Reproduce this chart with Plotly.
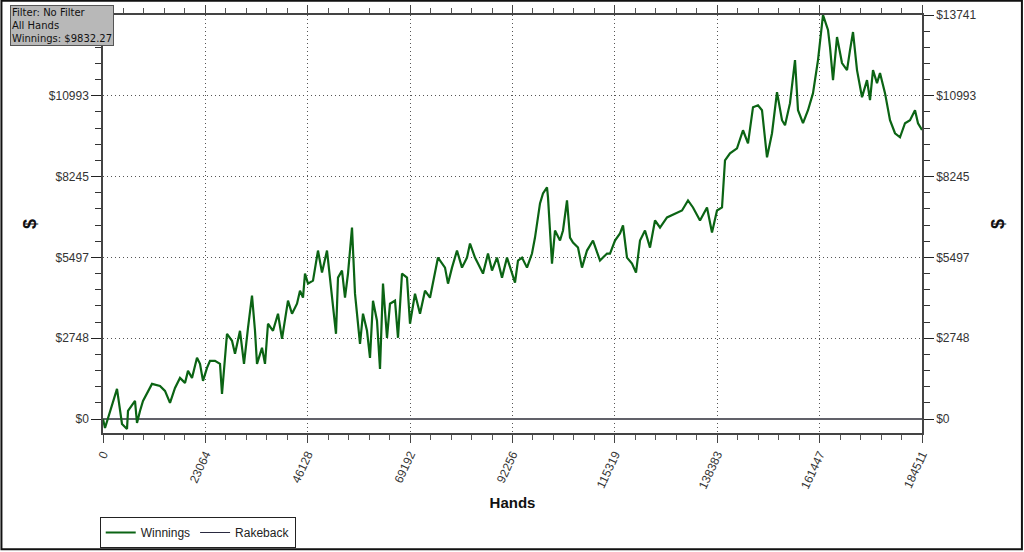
import plotly.graph_objects as go

# Winnings curve (hands, dollars)
hands = [0, 451, 3154, 4281, 5407, 5632, 7209, 7660, 8336, 9012, 11039, 12842, 13968, 15094,
         16221, 17347, 18474, 19150, 20051, 21177, 21853, 22529, 23430, 24106, 25232, 26359,
         26810, 27485, 27936, 29062, 29738, 30865, 31766, 32667, 33568, 34244, 34695, 35821,
         36497, 37173, 38299, 39426, 40327, 41679, 42580, 43706, 44382, 45058, 45509, 46184,
         47311, 48437, 49339, 50465, 51141, 51817, 52493, 52943, 53844, 54520, 55196, 56097,
         56773, 57900, 58576, 59477, 60152, 60828, 61729, 62405, 63081, 63982, 64658, 65785,
         66461, 67362, 68488, 69164, 70290, 71417, 72543, 73670, 74346, 75472, 77049, 77725,
         78626, 79753, 80879, 82006, 82681, 83808, 84484, 85610, 86737, 87638, 88764, 89891,
         91017, 92144, 92819, 93495, 94396, 95523, 96649, 97325, 98452, 99127, 100029, 100254,
         101155, 101831, 102958, 103633, 104534, 105210, 105886, 107013, 107914, 109040,
         110392, 111969, 113546, 114222, 115348, 116475, 117151, 118052, 119178, 120080,
         120981, 122107, 123234, 124360, 125487, 127064, 128866, 130443, 131795, 132921,
         134498, 136075, 137202, 138328, 139455, 140130, 141257, 142834, 144186, 145312,
         146439, 147565, 148466, 149593, 150719, 151845, 152972, 153648, 154774, 155901,
         156577, 157703, 158829, 159956, 161082, 161983, 162209, 163335, 163786, 164462,
         165363, 166489, 167616, 168292, 168968, 169869, 170995, 172122, 172798, 173473,
         174374, 175050, 176177, 177303, 178430, 179556, 180683, 181809, 182936, 183611, 184511]
winnings = [0, -307, 1023, -171, -341, 273, 614, -136, 273, 614, 1194, 1125, 955, 546,
            1057, 1398, 1228, 1637, 1398, 2080, 1876, 1296, 1739, 1978, 1978, 1876,
            853, 1978, 2899, 2660, 2217, 3001, 1876, 3103, 4194, 3001, 1876, 2421,
            1876, 3240, 3001, 3581, 2728, 4024, 3581, 3922, 4365, 4126, 4945, 4604,
            4706, 5729, 4979, 5729, 4706, 3922, 2899, 4808, 5047, 4126, 4945, 6513,
            4263, 2558, 3581, 3001, 2080, 4024, 3342, 1705, 4604, 2762, 3922, 4024,
            2762, 4945, 4808, 3240, 4263, 3581, 4365, 4126, 4604, 5490, 5149, 4604,
            5149, 5729, 5149, 5490, 5968, 5490, 5286, 4945, 5627, 5047, 5490, 4808,
            5490, 4945, 4638, 5388, 5490, 5149, 5627, 6172, 7332, 7673, 7877, 7536,
            5286, 6411, 6070, 6411, 7434, 6172, 6002, 5831, 5149, 5729,
            6070, 5388, 5627, 5627, 6070, 6309, 6581, 5490, 5286, 4979,
            6070, 6411, 5831, 6752, 6513, 6854, 6991, 7093, 7434, 7195,
            6752, 7195, 6343, 7093, 7195, 8798, 9037, 9207, 9821, 9378,
            10605, 10673, 10503, 8900, 9719, 11117, 10162, 9991, 10742, 12208,
            10503, 10060, 10503, 11083, 12208, 13572, 13741, 13231, 12651, 11526,
            12992, 12106, 11867, 12549, 13163, 11867, 10946, 11526, 10844, 11867,
            11424, 11765, 11083, 10162, 9719, 9582, 10060, 10162, 10503, 10060, 9832]

rakeback_hands = [0, 184511]
rakeback = [0, 0]

x_ticks = [0, 23064, 46128, 69192, 92256, 115319, 138383, 161447, 184511]
x_labels = ["0", "23064", "46128", "69192", "92256", "115319", "138383", "161447", "184511"]
y_ticks = [0, 2748, 5497, 8245, 10993, 13741]
y_labels = ["$0", "$2748", "$5497", "$8245", "$10993", "$13741"]
# the left top label is hidden under the filter box in the original
y_labels_left = ["$0", "$2748", "$5497", "$8245", "$10993", ""]

FONT = "Liberation Sans, Arial, sans-serif"
YR = [-476, 13741]
XR = [0, 184511]
GRID_DASH = "1px,3px"

fig = go.Figure()
fig.add_trace(go.Scatter(x=rakeback_hands, y=rakeback, mode="lines", name="Rakeback",
                         line=dict(color="#3a3a4a", width=1.2), showlegend=False))
fig.add_trace(go.Scatter(x=hands, y=winnings, mode="lines", name="Winnings",
                         line=dict(color="#0b6414", width=2.2)))
fig.add_trace(go.Scatter(x=[None], y=[None], mode="lines", name="Rakeback",
                         line=dict(color="#2a2a40", width=1.2)))
fig.add_trace(go.Scatter(x=[0], y=[0], yaxis="y2", mode="markers",
                         marker=dict(opacity=0), showlegend=False, hoverinfo="skip"))

fig.update_layout(
    width=1024, height=552,
    margin=dict(l=103, r=102, t=15, b=119, autoexpand=False),
    paper_bgcolor="white", plot_bgcolor="white",
    font=dict(family=FONT, size=12, color="#333"),
    xaxis=dict(range=XR, tickvals=x_ticks, ticktext=x_labels, tickangle=-65,
               automargin=False,
               showgrid=True, gridcolor="#555", griddash=GRID_DASH, gridwidth=1,
               showline=True, linecolor="#444", linewidth=1.5, mirror="ticks",
               ticks="outside", ticklen=8, tickcolor="#444",
               minor=dict(dtick=4612.8, tick0=0, ticks="outside", ticklen=5, tickcolor="#555"),
               tickfont=dict(size=12, color="#333"), zeroline=False,
               title=dict(text="<b>Hands</b>", font=dict(size=15, color="#111"), standoff=7)),
    yaxis=dict(range=YR, tickvals=y_ticks, ticktext=y_labels_left, automargin=False,
               showgrid=True, gridcolor="#555", griddash=GRID_DASH, gridwidth=1,
               showline=True, linecolor="#444", linewidth=1.5,
               ticks="outside", ticklen=10, tickcolor="#222",
               minor=dict(dtick=549.64, tick0=0, ticks="outside", ticklen=6, tickcolor="#333"),
               tickfont=dict(size=12, color="#333"), zeroline=True, zerolinecolor="#888",
               title=dict(text="<b>$</b>", font=dict(size=18, color="#111"), standoff=8)),
    yaxis2=dict(range=YR, overlaying="y", side="right", tickvals=y_ticks, ticktext=y_labels,
                automargin=False,
                showgrid=False, showline=True, linecolor="#444", linewidth=1.5,
                ticks="outside", ticklen=10, tickcolor="#222",
                minor=dict(dtick=549.64, tick0=0, ticks="outside", ticklen=6, tickcolor="#333"),
                tickfont=dict(size=12, color="#333"), zeroline=False,
                title=dict(text="<b>$</b>", font=dict(size=18, color="#111"), standoff=16)),
    legend=dict(orientation="h", x=-0.004, y=-0.201, xanchor="left", yanchor="top",
                bordercolor="#222", borderwidth=1, bgcolor="white",
                font=dict(size=12, color="#222"), itemwidth=30, tracegroupgap=0),
    showlegend=True,
)

fig.add_annotation(xref="paper", yref="paper", x=-0.1136, y=1.024, xanchor="left", yanchor="top",
                   text="Filter: No Filter<br>All Hands<br>Winnings: $9832.27",
                   showarrow=False, align="left", bgcolor="#b8b8b8", bordercolor="#555",
                   borderwidth=1, borderpad=1,
                   font=dict(size=10, color="#111", family="DejaVu Sans, sans-serif"))

fig.add_shape(type="rect", xref="paper", yref="paper", x0=-0.124, x1=1.122, y0=-0.278, y1=1.034,
              line=dict(color="#111", width=2), fillcolor="rgba(0,0,0,0)", layer="below")

fig.write_html("out.html", config={"displayModeBar": False},
               post_script="document.body.style.margin='0px';")
